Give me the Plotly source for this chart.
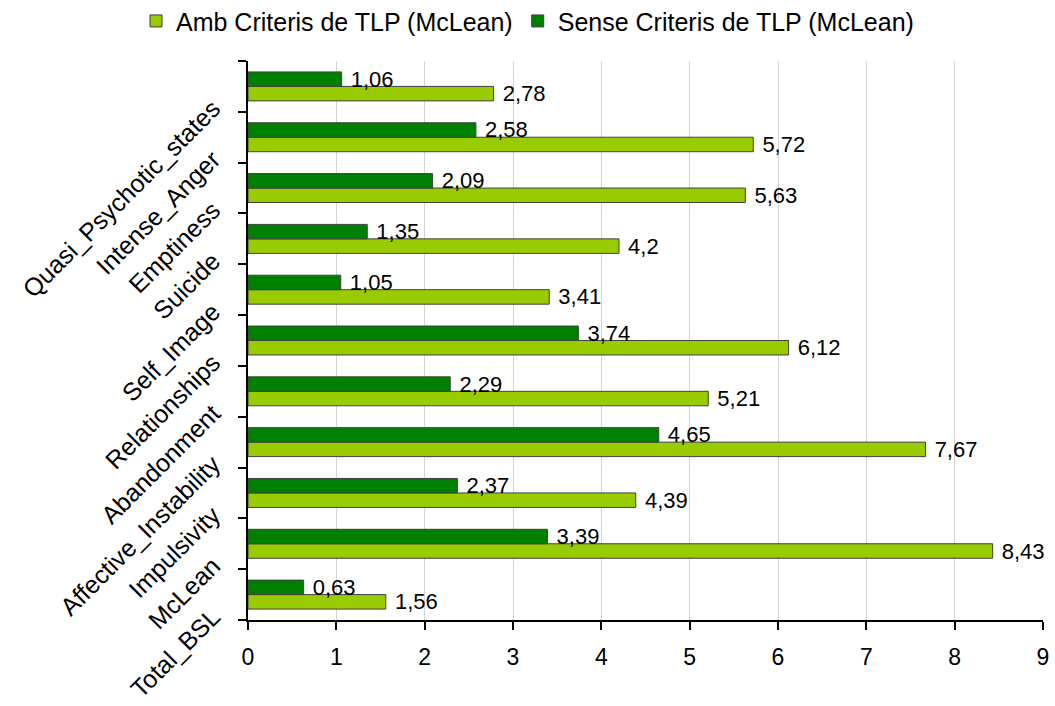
import plotly.graph_objects as go

categories = ["Total_BSL", "McLean", "Impulsivity", "Affective_Instability", "Abandonment",
              "Relationships", "Self_Image", "Suicide", "Emptiness", "Intense_Anger",
              "Quasi_Psychotic_states"]
amb_values = [1.56, 8.43, 4.39, 7.67, 5.21, 6.12, 3.41, 4.2, 5.63, 5.72, 2.78]
sense_values = [0.63, 3.39, 2.37, 4.65, 2.29, 3.74, 1.05, 1.35, 2.09, 2.58, 1.06]
series_names = ["Amb Criteris de TLP (McLean)", "Sense Criteris de TLP (McLean)"]
x_ticks = list(range(0, 10))

FONT = "Liberation Sans, Arial, sans-serif"

def fmt(v):
    return " " + str(v).replace(".", ",")

fig = go.Figure()
for name, vals, color in [(series_names[0], amb_values, "#99cc00"),
                          (series_names[1], sense_values, "#008000")]:
    fig.add_trace(go.Bar(
        y=categories, x=vals, name=name, orientation="h",
        marker=dict(color=color, line=dict(color="#404040", width=1)),
        text=[fmt(v) for v in vals], textposition="outside",
        textfont=dict(family=FONT, size=22, color="#000000"),
        constraintext="none", cliponaxis=False,
    ))

fig.update_layout(
    width=1055, height=706,
    paper_bgcolor="white", plot_bgcolor="white",
    margin=dict(l=248, r=12, t=61, b=86, autoexpand=False),
    barmode="group", bargap=0.43, bargroupgap=0,
    font=dict(family=FONT, size=22, color="#000000"),
    legend=dict(orientation="h", xref="container", x=0.5, xanchor="center",
                yref="container", y=0.97, yanchor="middle",
                font=dict(family=FONT, size=25), itemwidth=30,
                traceorder="normal"),
    xaxis=dict(range=[0, 9], tickvals=x_ticks, ticktext=[str(t) for t in x_ticks],
               showgrid=True, gridcolor="#d4d4d4", gridwidth=1,
               showline=True, linecolor="#000000", linewidth=2,
               ticks="outside", ticklen=8, tickwidth=2, tickcolor="#000000",
               zeroline=False, tickfont=dict(size=23), automargin=False,
               ticklabelstandoff=7),
    yaxis=dict(type="category", categoryorder="array", categoryarray=categories,
               showline=True, linecolor="#000000", linewidth=2,
               ticks="outside", ticklen=8, tickwidth=2, tickcolor="#000000",
               tickson="boundaries", tickangle=-45, showgrid=False,
               ticklabelshift=19, ticklabelstandoff=28, automargin=False,
               tickfont=dict(size=25)),
)

fig.write_html("out.html", config={"displayModeBar": False},
               post_script="document.body.style.margin='0';")
